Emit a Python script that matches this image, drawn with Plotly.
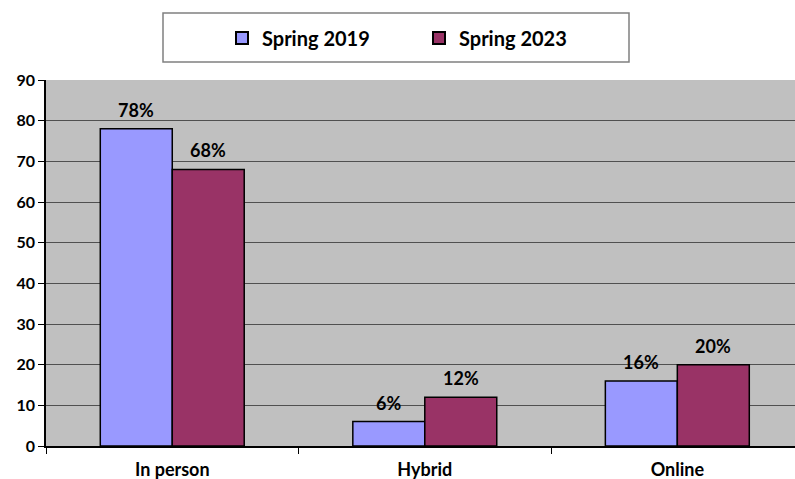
import plotly.graph_objects as go

categories = ["In person", "Hybrid", "Online"]
spring_2019 = [78, 6, 16]
spring_2023 = [68, 12, 20]
series_names = ["Spring 2019", "Spring 2023"]
y_ticks = [0, 10, 20, 30, 40, 50, 60, 70, 80, 90]

FONT = "Lato"
colors = ["#9999FF", "#993366"]

fig = go.Figure()
for name, vals, col in zip(series_names, [spring_2019, spring_2023], colors):
    fig.add_trace(go.Bar(
        x=categories, y=vals, name=name,
        marker=dict(color=col, line=dict(color="#000000", width=1.5)),
    ))

# data labels
for vals, shift in zip([spring_2019, spring_2023], [-36, 36]):
    for c, v in zip(categories, vals):
        fig.add_annotation(
            x=c, y=v, text=f"{v}%", showarrow=False,
            xshift=shift, yshift=6, yanchor="bottom",
            font=dict(family=FONT, size=18, color="#000000", weight="bold"),
        )

L, R, T, B = 46, 0, 80, 33
PW, PH = 795 - L - R, 479 - T - B

# legend frame
fig.add_shape(
    type="rect", xref="paper", yref="paper",
    x0=(163 - L) / PW, x1=(629 - L) / PW,
    y0=(446 - 62) / PH, y1=(446 - 13) / PH,
    line=dict(color="#808080", width=1.5), fillcolor="#FFFFFF", layer="below",
)

fig.update_layout(
    width=795, height=479,
    margin=dict(l=L, r=R, t=T, b=B),
    paper_bgcolor="#FFFFFF", plot_bgcolor="#C0C0C0",
    barmode="group", bargap=0.43, bargroupgap=0,
    font=dict(family=FONT, color="#000000"),
    showlegend=True,
    legend=dict(
        orientation="h", x=(222 - L) / PW, xanchor="left",
        y=(446 - 38) / PH, yanchor="middle",
        bgcolor="rgba(0,0,0,0)", borderwidth=0,
        font=dict(family=FONT, size=20, color="#000000", weight="bold"),
        entrywidth=152, entrywidthmode="pixels",
        itemsizing="constant",
    ),
    xaxis=dict(
        range=[-0.5, 2.466],
        showgrid=False, showline=True, linecolor="#000000", linewidth=1.5,
        ticks="outside", tickson="boundaries", ticklen=6, tickcolor="#000000",
        tickfont=dict(family=FONT, size=18, color="#000000", weight="bold"),
        ticklabelstandoff=7,
    ),
    yaxis=dict(
        range=[0, 90], tickvals=y_ticks, showgrid=True, gridcolor="#505050", gridwidth=1,
        showline=True, linecolor="#000000", linewidth=1.5,
        ticks="outside", ticklen=6, tickcolor="#000000",
        tickfont=dict(family=FONT, size=16, color="#000000", weight="bold"),
        zeroline=False,
    ),
)

fig.write_html("out.html")
